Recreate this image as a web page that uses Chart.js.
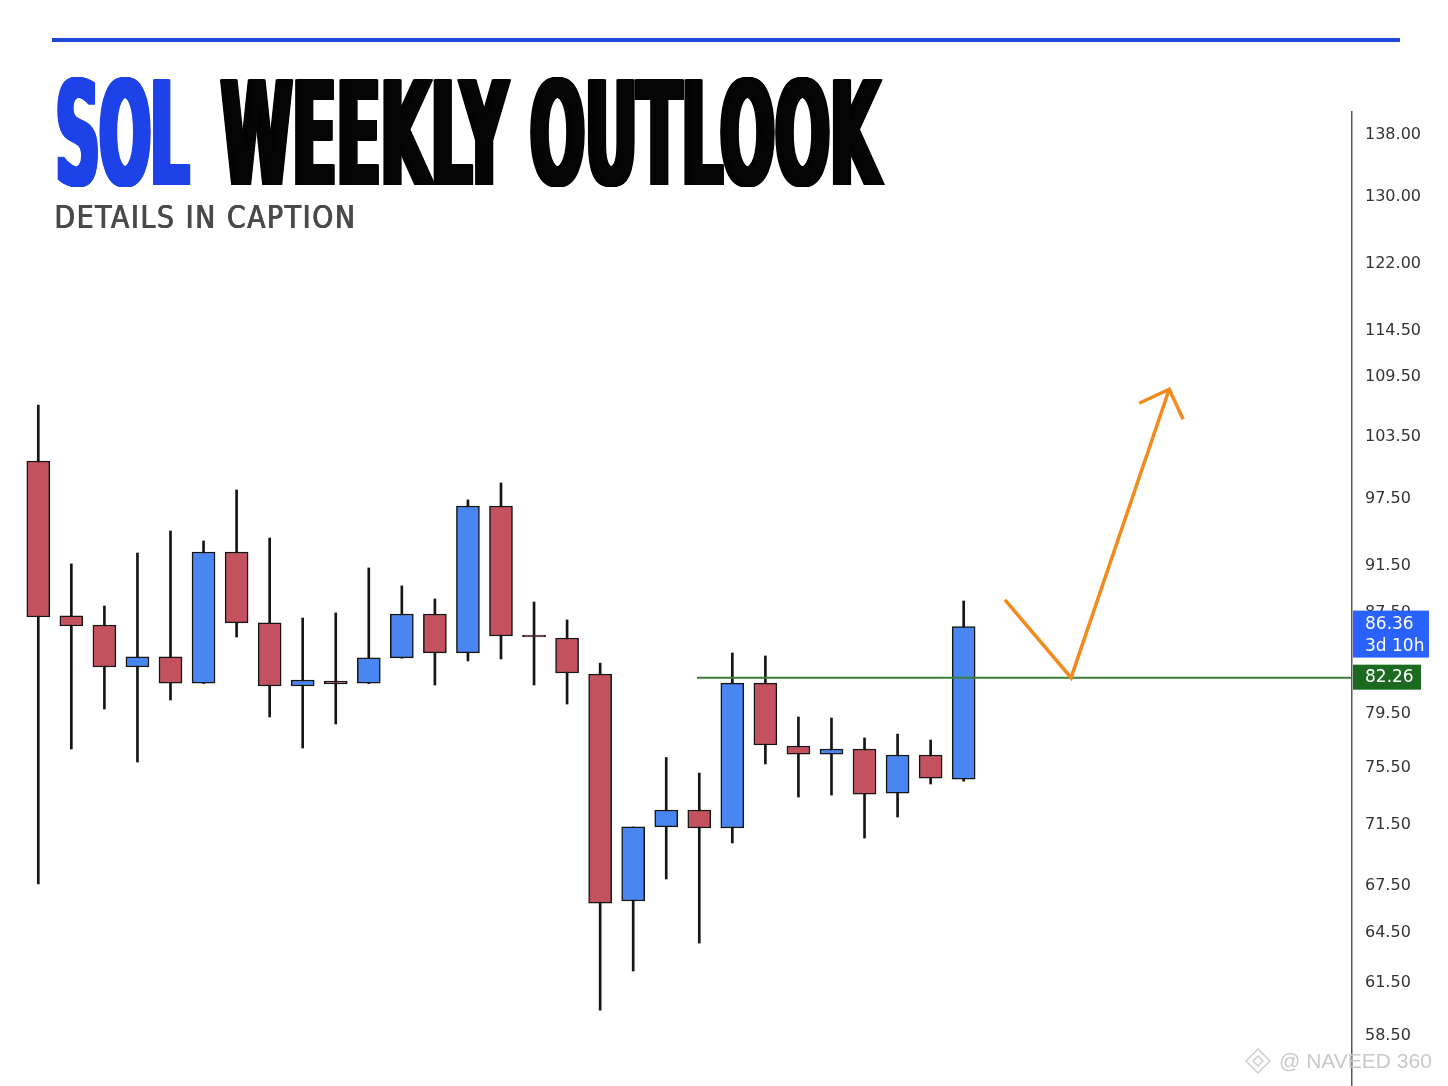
<!DOCTYPE html>
<html>
<head>
<meta charset="utf-8">
<script src="https://cdn.jsdelivr.net/npm/chart.js@4.4.1/dist/chart.umd.min.js"></script>
<style>
  html, body { margin: 0; padding: 0; background: #fff; }
  #chart { display: block; }
</style>
</head>
<body>
<canvas id="chart" width="1448" height="1086"></canvas>
<script>
// weekly candles
var opens  = [101.11, 87.24, 86.49, 83.10, 83.90, 81.84, 92.72, 86.66, 81.61, 82.00, 81.84, 83.82, 87.40, 84.22, 96.87, 85.66, 85.43, 82.55, 66.50, 71.36, 72.52, 71.29, 81.84, 77.08, 76.49, 76.86, 73.70, 76.42, 74.69];
var highs  = [106.65, 91.67, 88.07, 92.63, 94.59, 93.70, 98.36, 93.96, 87.07, 87.49, 91.32, 89.77, 88.66, 97.43, 99.02, 88.41, 86.91, 83.42, 71.36, 76.24, 75.12, 84.22, 83.98, 79.24, 79.16, 77.67, 77.96, 77.52, 88.49];
var lows   = [67.59, 76.86, 79.84, 75.91, 80.53, 81.80, 85.51, 79.24, 76.93, 78.71, 81.80, 83.80, 81.69, 83.58, 83.74, 81.69, 80.22, 59.94, 62.21, 67.91, 63.89, 70.28, 75.77, 73.42, 73.56, 70.61, 72.04, 74.34, 74.54];
var closes = [87.15, 86.41, 83.10, 83.90, 81.84, 92.72, 86.66, 81.61, 82.08, 81.77, 83.82, 87.40, 84.22, 96.87, 85.59, 85.52, 82.63, 66.37, 71.36, 72.52, 71.29, 81.84, 77.15, 76.49, 76.86, 73.63, 76.42, 74.76, 86.36];

var priceTicks = [138, 130, 122, 114.5, 109.5, 103.5, 97.5, 91.5, 87.5, 79.5, 75.5, 71.5, 67.5, 64.5, 61.5, 58.5];

// horizontal support and the drawn path (x in candle index units)
var supportLevel = 82.26;
var supportStart = 19.93;
var pathX = [29.25, 31.25, 34.22];
var pathY = [88.58, 82.26, 108.26];
var headX = [33.31, 34.22, 34.64];
var headY = [106.83, 108.26, 105.21];
var countdown = '3d 10h';

var bull = '#4A86F2', bear = '#C4515E';
var lastPrice = closes[closes.length - 1];
var xMin = -1.159, xMax = 39.75;

var bodies = opens.map(function (o, i) { return { x: i, y: [o, closes[i]] }; });
var wicks = lows.map(function (l, i) { return { x: i, y: [l, highs[i]] }; });
var bodyColors = opens.map(function (o, i) { return closes[i] >= o ? bull : bear; });

function fitText(ctx, text, x, base, size, width, family, weight, fatten) {
  ctx.font = weight + ' ' + size + 'px ' + family;
  var w = ctx.measureText(text).width;
  var sx = (width - fatten) / w;
  for (var dx = 0; dx <= fatten; dx += 0.5) {
    ctx.save();
    ctx.translate(x + dx, base);
    ctx.scale(sx, 1);
    ctx.fillText(text, 0, 0);
    ctx.restore();
  }
}

var decor = {
  id: 'decor',
  afterDraw: function (chart) {
    var ctx = chart.ctx, y = chart.scales.y;
    ctx.save();
    // top rule
    ctx.fillStyle = '#1E48DC';
    ctx.fillRect(52, 38, 1348, 4);

    // heading
    ctx.textBaseline = 'alphabetic';
    ctx.textAlign = 'left';
    var fam = '"DejaVu Sans Condensed", "DejaVu Sans", sans-serif';
    ctx.fillStyle = '#1D43E8';
    fitText(ctx, 'SOL', 53, 185, 144, 139, fam, 'bold', 6);
    ctx.fillStyle = '#050505';
    fitText(ctx, 'WEEKLY OUTLOOK', 218, 185, 144, 665, fam, 'bold', 6);
    ctx.fillStyle = '#4a4a4a';
    ctx.letterSpacing = '2px';
    fitText(ctx, 'DETAILS IN CAPTION', 54, 228, 32, 303, '"DejaVu Sans", sans-serif', 'normal', 1);
    ctx.letterSpacing = '0px';

    // price tags on the axis
    var right = chart.chartArea.right;
    var py = y.getPixelForValue(lastPrice);
    ctx.fillStyle = '#2962FF';
    ctx.fillRect(right + 1, py - 16, 76, 47);
    ctx.fillStyle = '#fff';
    ctx.font = '17px "DejaVu Sans", sans-serif';
    ctx.textBaseline = 'middle';
    ctx.fillText(lastPrice.toFixed(2), right + 13, py - 2);
    ctx.fillText(countdown, right + 13, py + 20);

    var gy = y.getPixelForValue(supportLevel);
    ctx.fillStyle = '#1B6A1F';
    ctx.fillRect(right + 1, gy - 13, 68, 25);
    ctx.fillStyle = '#fff';
    ctx.fillText(supportLevel.toFixed(2), right + 13, gy);

    // watermark
    ctx.strokeStyle = '#cfcfcf';
    ctx.lineWidth = 1.5;
    var cx = 1258, cy = 1061;
    [12, 5].forEach(function (r) {
      ctx.beginPath();
      ctx.moveTo(cx, cy - r); ctx.lineTo(cx + r, cy); ctx.lineTo(cx, cy + r); ctx.lineTo(cx - r, cy); ctx.closePath();
      ctx.stroke();
    });
    ctx.fillStyle = '#c9c9c9';
    ctx.font = '21px "Liberation Sans", sans-serif';
    ctx.textBaseline = 'alphabetic';
    ctx.fillText('@ NAVEED 360', 1279, 1068);
    ctx.restore();
  }
};

new Chart(document.getElementById('chart'), {
  type: 'bar',
  data: {
    datasets: [
      {
        label: 'wicks',
        data: wicks,
        backgroundColor: '#151515',
        borderWidth: 0,
        barThickness: 2,
        grouped: false,
        order: 3
      },
      {
        label: 'bodies',
        data: bodies,
        backgroundColor: bodyColors,
        borderColor: '#151515',
        borderWidth: 1.5,
        borderSkipped: false,
        barThickness: 23,
        grouped: false,
        order: 2
      },
      {
        type: 'line',
        label: 'support',
        data: [{ x: supportStart, y: supportLevel }, { x: xMax, y: supportLevel }],
        borderColor: '#3B7D3B',
        borderWidth: 2,
        pointRadius: 0,
        order: 1
      },
      {
        type: 'line',
        label: 'path',
        data: pathX.map(function (x, i) { return { x: x, y: pathY[i] }; }),
        borderColor: '#F28A1C',
        borderWidth: 3.5,
        pointRadius: 0,
        tension: 0,
        order: 0
      },
      {
        type: 'line',
        label: 'head',
        data: headX.map(function (x, i) { return { x: x, y: headY[i] }; }),
        borderColor: '#F28A1C',
        borderWidth: 3.5,
        pointRadius: 0,
        tension: 0,
        order: 0
      }
    ]
  },
  options: {
    responsive: false,
    animation: false,
    layout: { padding: { top: 112, left: 0, right: 0, bottom: 0 } },
    plugins: { legend: { display: false }, tooltip: { enabled: false } },
    scales: {
      x: {
        type: 'linear',
        display: false,
        offset: false,
        min: xMin,
        max: xMax
      },
      y: {
        type: 'logarithmic',
        position: 'right',
        min: 55.76,
        max: 140.97,
        bounds: 'data',
        grid: { display: false, drawTicks: false },
        border: { display: true, color: '#555', width: 1.5 },
        afterBuildTicks: function (scale) {
          scale.ticks = priceTicks.map(function (v) { return { value: v }; });
        },
        afterFit: function (scale) {
          scale.width = 96;
          scale.paddingTop = 0;
          scale.paddingBottom = 0;
        },
        ticks: {
          autoSkip: false,
          padding: 13,
          color: '#333',
          font: { family: '"DejaVu Sans", sans-serif', size: 16 },
          callback: function (v) { return Number(v).toFixed(2); }
        }
      }
    }
  },
  plugins: [decor]
});
</script>
</body>
</html>
